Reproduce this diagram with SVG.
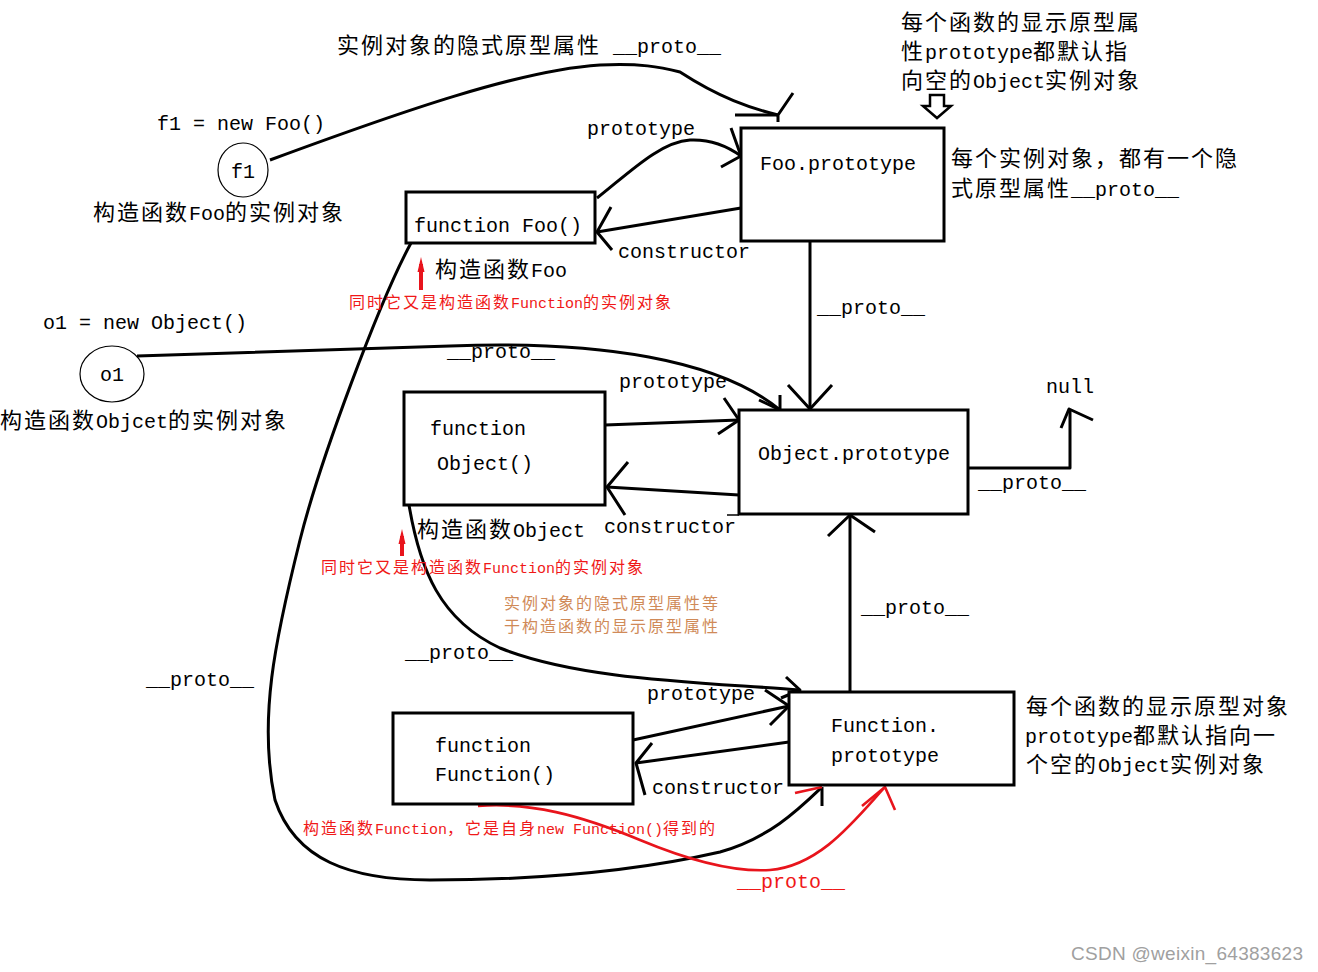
<svg xmlns="http://www.w3.org/2000/svg" width="1318" height="972" viewBox="0 0 1318 972">
  <style>
    .bg { fill: #ffffff; }
    .box { fill: #ffffff; stroke: #000; stroke-width: 3; }
    .circ { fill: none; stroke: #000; stroke-width: 1.2; }
    .ln { fill: none; stroke: #000; stroke-width: 3; stroke-linejoin: round; }
    .red { fill: none; stroke: #e8141c; stroke-width: 2.6; stroke-linejoin: round; }
    .m { font-family: "Liberation Mono", "DejaVu Sans Mono", monospace; font-size: 20px; fill: #000; }
    .c { font-family: "Noto Sans CJK SC", "Noto Sans CJK JP", sans-serif; font-size: 22px; letter-spacing: 2px; }
    .rm { font-family: "Liberation Mono", monospace; font-size: 15px; fill: #f01818; }
    .rc { font-family: "Noto Sans CJK SC", sans-serif; font-size: 16px; letter-spacing: 2px; }
    .or { font-family: "Noto Sans CJK SC", sans-serif; font-size: 16px; letter-spacing: 2px; fill: #d08a58; }
    .rp { font-family: "Liberation Mono", monospace; font-size: 20px; fill: #f01818; }
    .wm { font-family: "Liberation Sans", Arial, sans-serif; font-size: 19px; fill: #a0a0a0; }
  </style>
  <rect class="bg" x="0" y="0" width="1318" height="972"/>

  <!-- connectors -->
  <g id="connectors">
    <!-- f1.__proto__ -> Foo.prototype -->
    <path class="ln" d="M270,160 C400,112 520,70 600,65 C640,63 660,67 680,72 C720,98 750,108 778,115"/>
    <path class="ln" d="M735,115 L778,115 M778,115 L778,122 M778,115 L793,93"/>
    <!-- Foo.prototype -->
    <path class="ln" d="M597,198 C630,172 660,142 690,140 C712,139 730,148 741,156"/>
    <path class="ln" d="M731,128 L741,156 L721,167"/>
    <!-- Foo.prototype.constructor -->
    <path class="ln" d="M741,208 L597,232"/>
    <path class="ln" d="M611,207 L597,232 L612,250"/>
    <!-- Foo.prototype.__proto__ -> Object.prototype -->
    <path class="ln" d="M810,241 L810,409"/>
    <path class="ln" d="M788,385 L810,409 L832,385"/>
    <!-- o1.__proto__ -> Object.prototype -->
    <path class="ln" d="M137,356 L450,346 C600,340 720,360 780,410"/>
    <path class="ln" d="M780,395 L780,410 L759,400"/>
    <!-- Object.prototype -->
    <path class="ln" d="M605,425 L739,420"/>
    <path class="ln" d="M724,398 L739,420 L718,434"/>
    <!-- Object.prototype.constructor -->
    <path class="ln" d="M739,495 L607,487"/>
    <path class="ln" d="M628,462 L607,487 L625,515"/>
    <path d="M727,515 L739,515" stroke="#000" stroke-width="1.5"/>
    <!-- Object.prototype.__proto__ -> null -->
    <path class="ln" d="M968,468 L1070,468 L1070,409"/>
    <path class="ln" d="M1061,428 L1069,409 L1093,420"/>
    <!-- Function.prototype.__proto__ -> Object.prototype -->
    <path class="ln" d="M850,692 L850,515"/>
    <path class="ln" d="M828,536 L850,515 L875,532"/>
    <!-- Object.__proto__ -> Function.prototype -->
    <path class="ln" d="M409,505 C420,570 440,620 500,648 C580,680 700,682 800,690"/>
    <path class="ln" d="M786,677 L800,690 L781,698"/>
    <!-- Function.prototype -->
    <path class="ln" d="M633,740 L789,706"/>
    <path class="ln" d="M765,690 L789,706 L770,725"/>
    <!-- Function.prototype.constructor -->
    <path class="ln" d="M789,742 L636,763"/>
    <path class="ln" d="M652,743 L636,763 L645,795"/>
    <!-- Foo.__proto__ -> Function.prototype -->
    <path class="ln" d="M411,243 C380,300 320,460 300,540 C275,640 258,720 275,800 C295,860 350,880 430,880 C560,880 650,868 720,852 C770,838 800,808 822,787"/>
    <path class="ln" d="M822,787 L822,806"/>
    <!-- Function.__proto__ -> Function.prototype -->
    <path class="red" d="M478,806 C530,802 580,815 640,840 C700,865 740,872 770,870 C820,866 855,820 885,787"/>
    <path class="red" d="M862,806 L885,787 L895,810"/>
    <path class="red" d="M795,793 L822,787"/>
    <!-- marker arrows under the constructor labels -->
    <path d="M421,290 L421,264" stroke="#e8141c" stroke-width="4"/>
    <path d="M417.5,272 L421,257 L424.5,272 Z" fill="#e8141c"/>
    <path d="M402,556 L402,536" stroke="#e8141c" stroke-width="4"/>
    <path d="M398.5,544 L402,529 L405.5,544 Z" fill="#e8141c"/>
    <!-- hollow arrow pointing at Foo.prototype -->
    <path d="M930,95 L944,95 L944,106 L951,106 L937,118 L923,106 L930,106 Z" fill="#fff" stroke="#000" stroke-width="2.5" stroke-linejoin="miter"/>
  </g>

  <!-- nodes -->
  <g id="f1">
    <ellipse class="circ" cx="243" cy="170" rx="25" ry="27"/>
    <text class="m" x="231" y="178">f1</text>
  </g>
  <g id="o1">
    <ellipse class="circ" cx="112" cy="374" rx="32" ry="28"/>
    <text class="m" x="100" y="381">o1</text>
  </g>
  <g id="foo-prototype">
    <rect class="box" x="741" y="128" width="203" height="113"/>
    <text class="m" x="760" y="170">Foo.prototype</text>
  </g>
  <g id="function-foo">
    <rect class="box" x="406" y="192" width="189" height="51"/>
    <text class="m" x="414" y="232">function Foo()</text>
  </g>
  <g id="function-object">
    <rect class="box" x="404" y="392" width="201" height="113"/>
    <text class="m" x="430" y="435">function</text>
    <text class="m" x="437" y="470">Object()</text>
  </g>
  <g id="object-prototype">
    <rect class="box" x="739" y="410" width="229" height="104"/>
    <text class="m" x="758" y="460">Object.prototype</text>
  </g>
  <g id="function-function">
    <rect class="box" x="393" y="713" width="240" height="91"/>
    <text class="m" x="435" y="752">function</text>
    <text class="m" x="435" y="781">Function()</text>
  </g>
  <g id="function-prototype">
    <rect class="box" x="789" y="692" width="225" height="93"/>
    <text class="m" x="831" y="732">Function.</text>
    <text class="m" x="831" y="762">prototype</text>
  </g>
  <g id="null">
    <text class="m" x="1046" y="393">null</text>
  </g>

  <!-- labels -->
  <g id="labels">
    <text class="m" x="337" y="53"><tspan class="c">实例对象的隐式原型属性</tspan> __proto__</text>
    <text class="m" x="901" y="30"><tspan class="c">每个函数的显示原型属</tspan></text>
    <text class="m" x="901" y="59"><tspan class="c">性</tspan>prototype<tspan class="c">都默认指</tspan></text>
    <text class="m" x="901" y="88"><tspan class="c">向空的</tspan>Object<tspan class="c">实例对象</tspan></text>
    <text class="m" x="157" y="130">f1 = new Foo()</text>
    <text class="m" x="93" y="220"><tspan class="c">构造函数</tspan>Foo<tspan class="c">的实例对象</tspan></text>
    <text class="m" x="587" y="135">prototype</text>
    <text class="m" x="618" y="258">constructor</text>
    <text class="m" x="951" y="166"><tspan class="c">每个实例对象，都有一个隐</tspan></text>
    <text class="m" x="951" y="196"><tspan class="c">式原型属性</tspan>__proto__</text>
    <text class="m" x="435" y="277"><tspan class="c">构造函数</tspan>Foo</text>
    <text class="rm" x="349" y="308"><tspan class="rc">同时它又是构造函数</tspan>Function<tspan class="rc">的实例对象</tspan></text>
    <text class="m" x="43" y="329">o1 = new Object()</text>
    <text class="m" x="0" y="428"><tspan class="c">构造函数</tspan>Objcet<tspan class="c">的实例对象</tspan></text>
    <text class="m" x="817" y="314">__proto__</text>
    <text class="m" x="447" y="358">__proto__</text>
    <text class="m" x="619" y="388">prototype</text>
    <text class="m" x="978" y="489">__proto__</text>
    <text class="m" x="417" y="537"><tspan class="c">构造函数</tspan>Object</text>
    <text class="m" x="604" y="533">constructor</text>
    <text class="rm" x="321" y="573"><tspan class="rc">同时它又是构造函数</tspan>Function<tspan class="rc">的实例对象</tspan></text>
    <text class="or" x="504" y="609">实例对象的隐式原型属性等</text>
    <text class="or" x="504" y="632">于构造函数的显示原型属性</text>
    <text class="m" x="861" y="614">__proto__</text>
    <text class="m" x="405" y="659">__proto__</text>
    <text class="m" x="146" y="686">__proto__</text>
    <text class="m" x="647" y="700">prototype</text>
    <text class="m" x="652" y="794">constructor</text>
    <text class="m" x="1026" y="714"><tspan class="c">每个函数的显示原型对象</tspan></text>
    <text class="m" x="1025" y="743">prototype<tspan class="c">都默认指向一</tspan></text>
    <text class="m" x="1026" y="772"><tspan class="c">个空的</tspan>Object<tspan class="c">实例对象</tspan></text>
    <text class="rm" x="303" y="834"><tspan class="rc">构造函数</tspan>Function<tspan class="rc">，它是自身</tspan>new Function()<tspan class="rc">得到的</tspan></text>
    <text class="rp" x="737" y="888">__proto__</text>
    <text class="wm" x="1071" y="960" textLength="232" lengthAdjust="spacing">CSDN @weixin_64383623</text>
  </g>
</svg>
